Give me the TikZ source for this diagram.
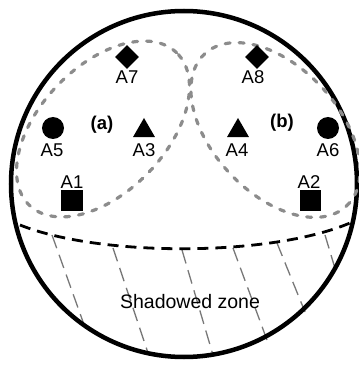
\documentclass[tikz,border=0pt]{standalone}
\usepackage{fontspec}
\setmainfont{Liberation Sans}
\usetikzlibrary{shapes.geometric}
\definecolor{dotgray}{RGB}{140,140,140}
\definecolor{hatchgray}{RGB}{120,120,120}
\begin{document}
\begin{tikzpicture}[x=1bp,y=1bp,
  lbl/.style={inner sep=0pt, font=\fontsize{18.5bp}{20bp}\selectfont},
  grp/.style={inner sep=0pt, font=\fontsize{18.5bp}{20bp}\selectfont\bfseries},
  zone/.style={draw=dotgray, line width=3.2bp, dash pattern=on 5bp off 9bp, line cap=round},
  hatch/.style={draw=hatchgray, line width=1.3bp, dash pattern=on 14bp off 7bp},
  bound/.style={draw=black, line width=2.8bp, dash pattern=on 11bp off 7bp},
  sq/.style={fill=black, rectangle, minimum size=21bp, inner sep=0pt},
  dot/.style={fill=black, circle, minimum size=22bp, inner sep=0pt},
  dia/.style={fill=black, diamond, minimum size=24bp, inner sep=0pt},
  tri/.style={fill=black, regular polygon, regular polygon sides=3, minimum size=25.4bp, inner sep=0pt}]
\useasboundingbox (0,0) rectangle (359,366);
% shadowed zone hatching
\coordinate (h1a) at (52,131);  \coordinate (h1b) at (87,33);
\coordinate (h2a) at (113,118); \coordinate (h2b) at (148,13);
\coordinate (h3a) at (182,116); \coordinate (h3b) at (213,11);
\coordinate (h4a) at (233,118); \coordinate (h4b) at (267,26);
\coordinate (h5a) at (277,123); \coordinate (h5b) at (305,54);
\coordinate (h6a) at (325,131); \coordinate (h6b) at (337,91);
\foreach \i in {1,...,6} {\draw[hatch] (h\i a) -- (h\i b);}
% boundary of shadowed zone
\coordinate (bl) at (20,141);
\coordinate (br) at (350,143);
\draw[bound] (bl) .. controls (100,109) and (270,109) .. (br);
% outer circle
\draw[line width=4.5bp] (184,182) circle (173);
% groups
\draw[zone] (103,237) ellipse [x radius=106, y radius=63, rotate=46];
\draw[zone] (275.5,236) ellipse [x radius=104, y radius=63, rotate=-47];
% markers
\node[dia] (m7) at (127,309) {};
\node[dia] (m8) at (257,309) {};
\node[dot] (m5) at (53,238) {};
\node[dot] (m6) at (328,238) {};
\node[tri] (m3) at (144,235.3) {};
\node[tri] (m4) at (238,235.3) {};
\node[sq] (m1) at (72,165) {};
\node[sq] (m2) at (310,165) {};
% labels
\node[lbl] (t7) at (127,289) {A7};
\node[lbl] (t8) at (253,289) {A8};
\node[lbl] (t5) at (52,216) {A5};
\node[lbl] (t3) at (144,216) {A3};
\node[lbl] (t4) at (237,216) {A4};
\node[lbl] (t6) at (328,216) {A6};
\node[lbl] (t1) at (72,184) {A1};
\node[lbl] (t2) at (309,184) {A2};
\node[grp] (ga) at (102,241) {(a)};
\node[grp] (gb) at (282,243) {(b)};
\node[inner sep=0pt, font=\fontsize{19.5bp}{21bp}\selectfont] (sz) at (190,64) {Shadowed zone};
\end{tikzpicture}
\end{document}
